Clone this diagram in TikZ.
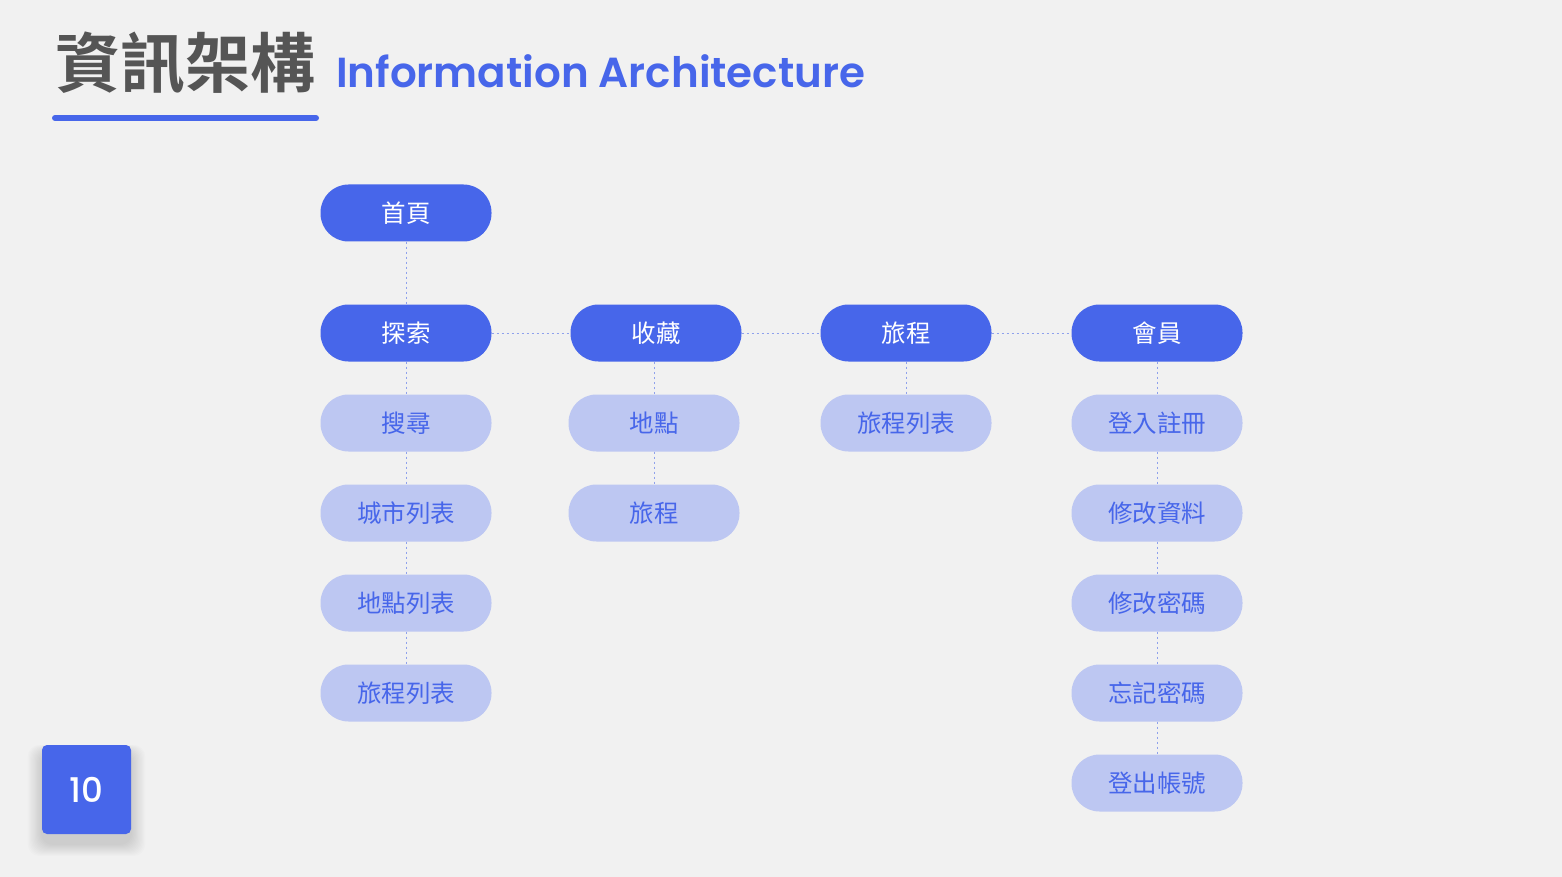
\documentclass[tikz,border=0pt]{standalone}
\usepackage{fontspec}
\newfontfamily\cjk{Noto Sans CJK TC}
\newfontfamily\cjkb{Noto Sans CJK TC Bold}
\newfontfamily\pop{Poppins}
\newfontfamily\popsb{Poppins SemiBold}
\newfontfamily\popm{Poppins Medium}
\definecolor{bg}{HTML}{F1F1F1}
\definecolor{mainblue}{HTML}{4766EA}
\definecolor{lightblue}{HTML}{BDC7F2}
\definecolor{linec}{HTML}{8FA1EC}
\definecolor{titlegray}{HTML}{555555}
\begin{document}
\begin{tikzpicture}[x=1pt,y=-1pt,
  mainbox/.style={rounded corners=28pt, fill=mainblue, minimum width=171pt, minimum height=57pt, inner sep=0pt, text=white, font=\cjk\fontsize{24.5}{24.5}\selectfont},
  subbox/.style={rounded corners=28pt, fill=lightblue, minimum width=171pt, minimum height=57pt, inner sep=0pt, text=mainblue, font=\cjk\fontsize{24.5}{24.5}\selectfont},
  link/.style={draw=linec, line width=0.8pt, dash pattern=on 2pt off 3pt}]
\fill[bg] (0,0) rectangle (1562,877);
\useasboundingbox (0,0) rectangle (1562,877);
% title
\node[anchor=base west, inner sep=0pt, text=titlegray, font=\cjkb\fontsize{65}{65}\selectfont] (title) at (55,88) {資訊架構};
\node[anchor=base west, inner sep=0pt, text=mainblue, font=\popsb\fontsize{42}{42}\selectfont] (subtitle) at (336,88) {Information Architecture};
\draw[mainblue, line width=6pt, line cap=round] (55,118) -- (316,118);
% page number shadow
\foreach \i in {1,...,12}{
  \fill[black, opacity=0.012, rounded corners=12pt] (42-\i*1.2,752-\i*0.6) rectangle (131+\i*1.2,844+\i*1.0);
}
\node[fill=mainblue, rounded corners=5pt, minimum width=89pt, minimum height=89pt, inner sep=0pt, text=white, font=\popm\fontsize{34}{34}\selectfont] (page) at (86.5,789.5) {10};
% nodes
\node[mainbox] (home) at (406,213) {首頁};
\node[mainbox] (explore) at (406,333) {探索};
\node[mainbox] (fav) at (656,333) {收藏};
\node[mainbox] (trip) at (906,333) {旅程};
\node[mainbox] (member) at (1157,333) {會員};
\node[subbox] (search) at (406,423) {搜尋};
\node[subbox] (city) at (406,513) {城市列表};
\node[subbox] (place) at (406,603) {地點列表};
\node[subbox] (triplist) at (406,693) {旅程列表};
\node[subbox] (favplace) at (654,423) {地點};
\node[subbox] (favtrip) at (654,513) {旅程};
\node[subbox] (trips) at (906,423) {旅程列表};
\node[subbox] (login) at (1157,423) {登入註冊};
\node[subbox] (edit) at (1157,513) {修改資料};
\node[subbox] (pwd) at (1157,603) {修改密碼};
\node[subbox] (forgot) at (1157,693) {忘記密碼};
\node[subbox] (logout) at (1157,783) {登出帳號};
% links
\draw[link] (home) -- (explore);
\draw[link] (explore) -- (fav);
\draw[link] (fav) -- (trip);
\draw[link] (trip) -- (member);
\draw[link] (explore) -- (search);
\draw[link] (search) -- (city);
\draw[link] (city) -- (place);
\draw[link] (place) -- (triplist);
\draw[link] (favplace.north) -- (favplace.north |- fav.south);
\draw[link] (favplace) -- (favtrip);
\draw[link] (trip) -- (trips);
\draw[link] (member) -- (login);
\draw[link] (login) -- (edit);
\draw[link] (edit) -- (pwd);
\draw[link] (pwd) -- (forgot);
\draw[link] (forgot) -- (logout);
\end{tikzpicture}
\end{document}
